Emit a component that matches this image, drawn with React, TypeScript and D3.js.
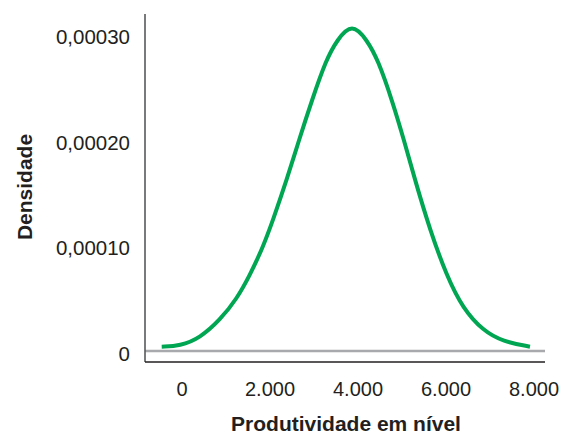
import React from "react";
import * as d3 from "d3";

const xTicks = [0, 2000, 4000, 6000, 8000];
const xTickLabels = ["0", "2.000", "4.000", "6.000", "8.000"];
const yTicks = [0, 0.0001, 0.0002, 0.0003];
const yTickLabels = ["0", "0,00010", "0,00020", "0,00030"];

const curveX = [
  -461, -45, 409, 864, 1243, 1545, 1841, 2068, 2380, 2659, 2955, 3273, 3523, 3864,
  4205, 4455, 4773, 5045, 5295, 5636, 6016, 6386, 6841, 7295, 7909,
];
const curveY = [
  0.0000041, 0.0000047, 0.0000123, 0.0000294, 0.0000493, 0.000072, 0.0000986, 0.0001242,
  0.0001621, 0.0002, 0.0002379, 0.0002758, 0.0002948, 0.000311, 0.0002948, 0.0002758,
  0.0002379, 0.0002, 0.0001621, 0.0001147, 0.0000711, 0.0000402, 0.0000193, 0.0000089,
  0.0000041,
];

const W = 566;
const H = 434;
const FONT = "'Liberation Sans', Arial, Helvetica, sans-serif";

export default function App() {
  const x = d3.scaleLinear().domain([0, 8000]).range([182, 534]);
  const y = d3.scaleLinear().domain([0, 0.0003]).range([351, 34.5]);
  const pts = curveX.map((v, i) => [v, curveY[i]] as [number, number]);
  const line = d3
    .line<[number, number]>()
    .x((d) => x(d[0]))
    .y((d) => y(d[1]))
    .curve(d3.curveBasis);

  const axisLeft = 145;
  const axisRight = 545;
  const axisBottom = 362;

  return (
    <svg
      width={W}
      height={H}
      style={{ position: "absolute", left: 0, top: 0, background: "#fff" }}
      fontFamily={FONT}
    >
      <rect x={0} y={0} width={W} height={H} fill="#fff" />
      {/* zero reference line */}
      <line x1={axisLeft} x2={axisRight} y1={y(0)} y2={y(0)} stroke="#a7a9ac" strokeWidth={2.5} />
      {/* axes */}
      <line x1={axisLeft} x2={axisLeft} y1={14} y2={axisBottom} stroke="#58595b" strokeWidth={1.6} />
      <line x1={axisLeft} x2={axisRight} y1={axisBottom} y2={axisBottom} stroke="#231f20" strokeWidth={1.6} />
      {/* curve */}
      <path d={line(pts) || ""} fill="none" stroke="#00a651" strokeWidth={4} strokeLinecap="butt" />
      {/* y tick labels */}
      {yTicks.map((t, i) => (
        <text
          key={"y" + i}
          x={130}
          y={y(t) + 2}
          textAnchor="end"
          dominantBaseline="central"
          fontSize={20.5}
          fill="#231f20"
        >
          {yTickLabels[i]}
        </text>
      ))}
      {/* x tick labels */}
      {xTicks.map((t, i) => (
        <text
          key={"x" + i}
          x={x(t)}
          y={389}
          textAnchor="middle"
          dominantBaseline="central"
          fontSize={20}
          fill="#231f20"
        >
          {xTickLabels[i]}
        </text>
      ))}
      {/* axis titles */}
      <text
        x={346}
        y={423}
        textAnchor="middle"
        dominantBaseline="central"
        fontSize={21}
        fontWeight="bold"
        fill="#231f20"
      >
        Produtividade em nível
      </text>
      <text
        transform={`translate(24,187) rotate(-90)`}
        textAnchor="middle"
        dominantBaseline="central"
        fontSize={21}
        fontWeight="bold"
        fill="#231f20"
      >
        Densidade
      </text>
    </svg>
  );
}
